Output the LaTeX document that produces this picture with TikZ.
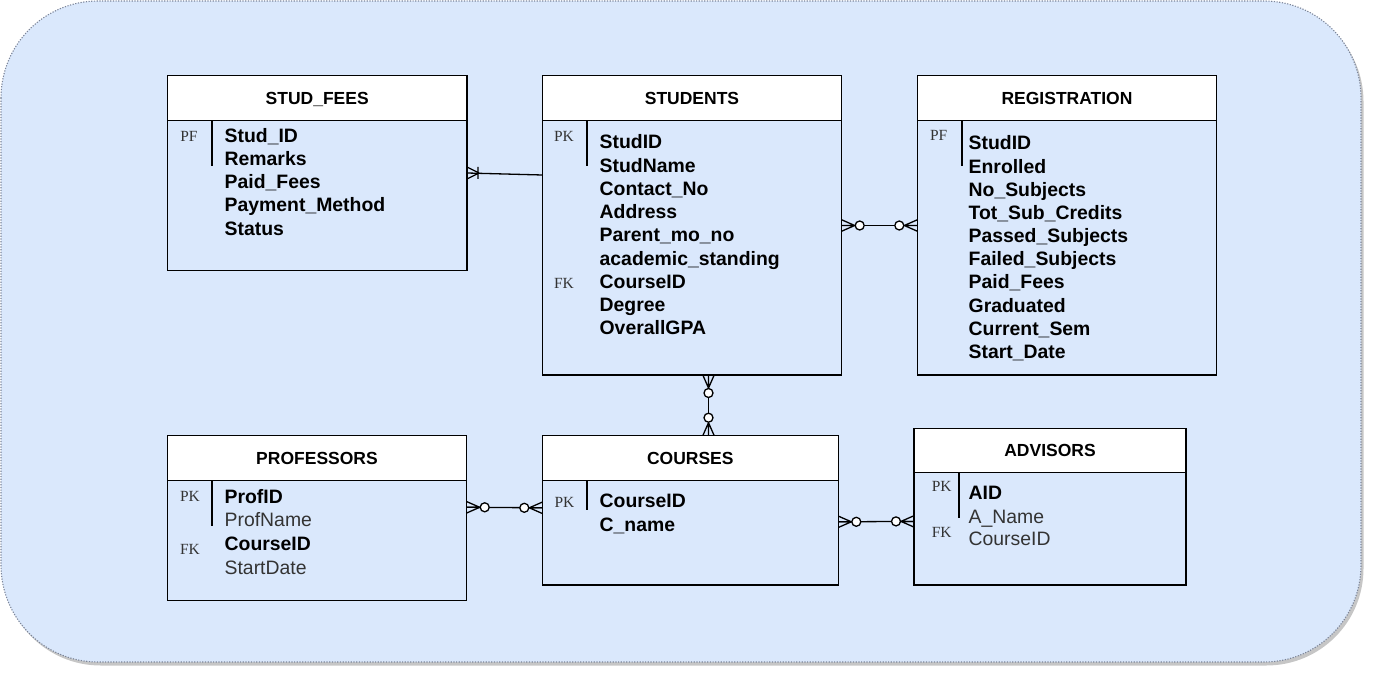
\documentclass[tikz,border=0pt]{standalone}
\usepackage{fontspec}
\setmainfont{Liberation Sans}
\newfontfamily\keyfont{Liberation Serif}
\usetikzlibrary{shadows}
\definecolor{bgfill}{HTML}{DAE8FC}
\definecolor{bgline}{HTML}{7C8599}
\definecolor{txtgray}{HTML}{333333}
\tikzset{
  zmany/.pic={\draw (0,-5.7)--(13,0) (0,0)--(13,0) (0,5.7)--(13,0); \draw[fill=white] (18,0) circle (4.5);},
  omany/.pic={\draw (0,-6)--(12,0) (0,6)--(12,0) (11,-6)--(11,6);}
}
\begin{document}
\begin{tikzpicture}[x=1pt,y=-1pt,line width=1.3pt,
  tbl/.style={draw=black, fill=bgfill, anchor=north west, inner sep=0pt, outer sep=0pt},
  hdr/.style={draw=black, fill=white, anchor=north west, inner sep=0pt, outer sep=0pt},
  htext/.style={anchor=base, inner sep=0pt, font=\fontsize{17.5}{20}\selectfont\bfseries},
  fld/.style={anchor=base west, inner sep=0pt, font=\fontsize{19.4}{22}\selectfont\bfseries},
  fldn/.style={anchor=base west, inner sep=0pt, font=\fontsize{19.4}{22}\selectfont, text=txtgray},
  keylab/.style={anchor=base, inner sep=0pt, font=\keyfont\fontsize{15.5}{18}\selectfont, text=txtgray},
  sep/.style={line width=1.3pt},
  rel/.style={line width=1.3pt}
]
\useasboundingbox (0,0) rectangle (1382,684);
% background
\path[draw=bgline, dash pattern=on 1.2pt off 1.5pt, line width=1.1pt, fill=bgfill, rounded corners=97pt,
  drop shadow={shadow xshift=2.5pt, shadow yshift=-3.5pt, opacity=0.45}] (1,1) rectangle (1361,662);

% STUD_FEES
\node[tbl, minimum width=299.7pt, minimum height=194.6pt] (sf) at (167.3,75.7) {};
\node[hdr, minimum width=299.7pt, minimum height=45pt] (sfh) at (167.3,75.7) {};
\node[htext] (sft) at (317.2,104.5) {STUD\_FEES};
\draw[sep] (212,120.7) -- (212,166);
\node[keylab] (sfk1) at (189,141.7) {PF};
\foreach \t [count=\i from 0] in {Stud\_ID, Remarks, Paid\_Fees, Payment\_Method, Status}
  \node[fld] (sff\i) at (224,142.7+\i*23.1) {\t};

% STUDENTS
\node[tbl, minimum width=299.4pt, minimum height=299.3pt] (stu) at (542.3,75.7) {};
\node[hdr, minimum width=299.4pt, minimum height=45pt] (stuh) at (542.3,75.7) {};
\node[htext] (stut) at (692,104.5) {STUDENTS};
\draw[sep] (587,120.7) -- (587,166);
\node[keylab] (stuk1) at (564,141.7) {PK};
\node[keylab] (stuk2) at (564,288.3) {FK};
\foreach \t [count=\i from 0] in {StudID, StudName, Contact\_No, Address, Parent\_mo\_no, academic\_standing, CourseID, Degree, OverallGPA}
  \node[fld] (stuf\i) at (599,149+\i*23.25) {\t};

% REGISTRATION
\node[tbl, minimum width=299.4pt, minimum height=299.3pt] (reg) at (917.3,75.7) {};
\node[hdr, minimum width=299.4pt, minimum height=45pt] (regh) at (917.3,75.7) {};
\node[htext] (regt) at (1067,104.5) {REGISTRATION};
\draw[sep] (962,120.7) -- (962,166);
\node[keylab] (regk1) at (938.7,141) {PF};
\foreach \t [count=\i from 0] in {StudID, Enrolled, No\_Subjects, Tot\_Sub\_Credits, Passed\_Subjects, Failed\_Subjects, Paid\_Fees, Graduated, Current\_Sem, Start\_Date}
  \node[fld] (regf\i) at (968,150+\i*23.15) {\t};

% PROFESSORS
\node[tbl, minimum width=299.4pt, minimum height=165pt] (prof) at (167.3,435.7) {};
\node[hdr, minimum width=299.4pt, minimum height=45pt] (profh) at (167.3,435.7) {};
\node[htext] (proft) at (317,464.3) {PROFESSORS};
\draw[sep] (212,480.7) -- (212,526);
\node[keylab] (profk1) at (190,501.7) {PK};
\node[keylab] (profk2) at (190,554.3) {FK};
\node[fld] (proff1) at (224,503.3) {ProfID};
\node[fldn] (proff2) at (224,526.9) {ProfName};
\node[fld] (proff3) at (224,550.5) {CourseID};
\node[fldn] (proff4) at (224,574) {StartDate};

% COURSES
\node[tbl, minimum width=296pt, minimum height=149.3pt] (crs) at (542.3,435.7) {};
\node[hdr, minimum width=296pt, minimum height=45pt] (crsh) at (542.3,435.7) {};
\node[htext] (crst) at (690.3,464.3) {COURSES};
\draw[sep] (587,480.7) -- (587,510);
\node[keylab] (crsk1) at (564.5,507.3) {PK};
\node[fld] (crsf1) at (599,507.3) {CourseID};
\node[fld] (crsf2) at (599,531.7) {C\_name};

% ADVISORS
\node[tbl, minimum width=272pt, minimum height=156.7pt] (adv) at (914,428.3) {};
\node[hdr, minimum width=272pt, minimum height=44.4pt] (advh) at (914,428.3) {};
\node[htext] (advt) at (1050,456.7) {ADVISORS};
\draw[sep] (959,472.7) -- (959,518);
\node[keylab] (advk1) at (941.7,491) {PK};
\node[keylab] (advk2) at (941.7,537.7) {FK};
\node[fld] (advf1) at (968,499.3) {AID};
\node[fldn] (advf2) at (968,523.3) {A\_Name};
\node[fldn] (advf3) at (968,545.5) {CourseID};

% connectors
\coordinate (c1a) at (sf.east |- 0,173);
\coordinate (c1b) at (stu.west |- 0,175);
\draw[rel] (c1a) -- (c1b);
\pic at (c1a) {omany};

\coordinate (c2a) at (stu.east |- 0,225.5);
\coordinate (c2b) at (reg.west |- 0,225.5);
\draw[rel] (c2a) -- (c2b);
\pic at (c2a) {zmany};
\pic[rotate=180] at (c2b) {zmany};

\coordinate (c3a) at (stu.south -| 708.5,0);
\coordinate (c3b) at (crs.north -| 708.5,0);
\draw[rel] (c3a) -- (c3b);
\pic[rotate=-90] at (c3a) {zmany};
\pic[rotate=90] at (c3b) {zmany};

\coordinate (c4a) at (prof.east |- 0,507.3);
\coordinate (c4b) at (crs.west |- 0,507.8);
\draw[rel] (c4a) -- (c4b);
\pic at (c4a) {zmany};
\pic[rotate=180] at (c4b) {zmany};

\coordinate (c5a) at (crs.east |- 0,521.8);
\coordinate (c5b) at (adv.west |- 0,521.4);
\draw[rel] (c5a) -- (c5b);
\pic at (c5a) {zmany};
\pic[rotate=180] at (c5b) {zmany};
\end{tikzpicture}
\end{document}
